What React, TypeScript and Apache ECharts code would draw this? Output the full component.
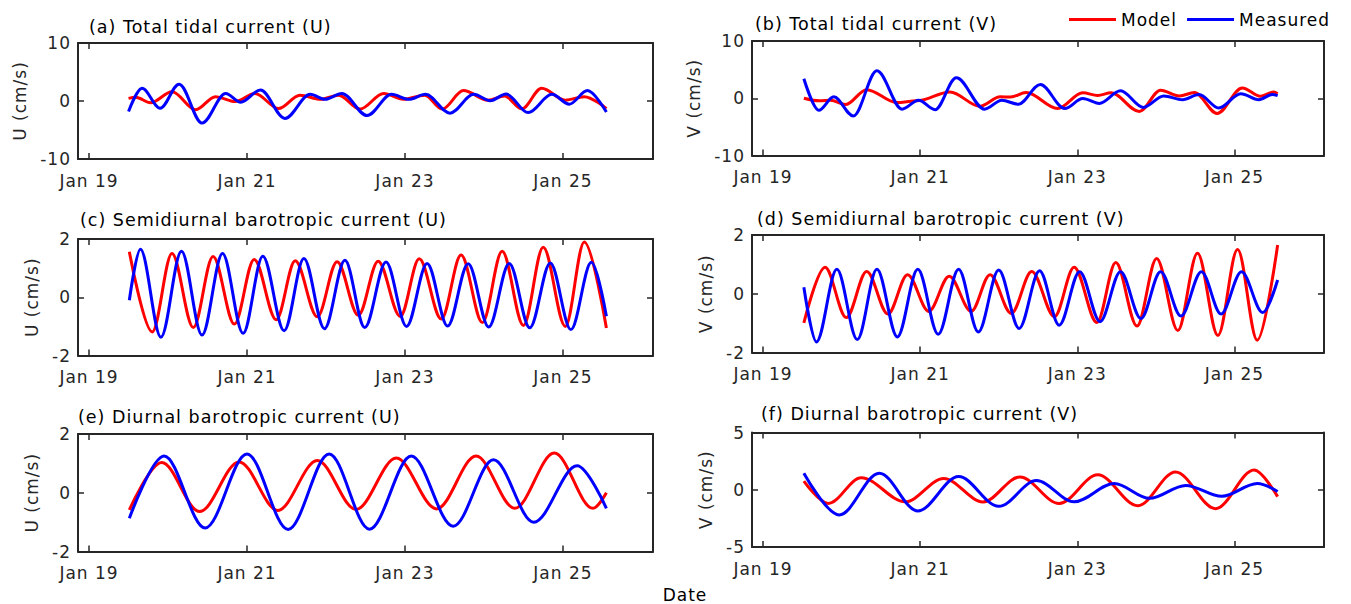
import { useEffect, useRef } from 'react';
import * as echarts from 'echarts';

type Pt = [number, number];

// Time is in days after Jan 19 00:00; values in cm/s.
// Each list holds the turning points of the curve (peaks, troughs, shoulders) plus its ends.

const totalU_model: Pt[] = [
  [0.5, 0.45], [0.59, 0.63], [0.78, -0.3], [1.05, 1.6], [1.35, -1.5], [1.6, 0.75], [1.85, -0.1],
  [2.1, 1.3], [2.4, -1.3], [2.67, 1.0], [2.93, 0.3], [3.16, 1.0], [3.43, -1.4], [3.73, 1.3],
  [3.98, 0.3], [4.25, 1.0], [4.47, -1.4], [4.74, 1.8], [5.05, 0.15], [5.26, 0.85], [5.48, -1.35],
  [5.73, 2.2], [6.03, 0.15], [6.27, 0.75], [6.55, -1.3],
];
const totalU_measured: Pt[] = [
  [0.5, -1.8], [0.67, 2.2], [0.9, -1.25], [1.14, 2.9], [1.43, -3.8], [1.73, 1.3], [1.92, -0.2],
  [2.17, 1.9], [2.48, -3.0], [2.8, 1.15], [2.99, 0.3], [3.2, 1.3], [3.52, -2.5], [3.83, 1.15],
  [4.05, 0.3], [4.26, 1.15], [4.57, -2.1], [4.87, 1.15], [5.08, 0.05], [5.28, 1.2], [5.56, -2.0],
  [5.86, 1.15], [6.08, -0.55], [6.31, 1.8], [6.55, -1.9],
];

const totalV_model: Pt[] = [
  [0.52, 0.0], [0.72, -0.45], [0.86, -0.35], [1.05, -1.1], [1.32, 1.5], [1.7, -0.75], [1.96, -0.45],
  [2.38, 1.1], [2.76, -1.4], [3.02, 0.25], [3.15, 0.2], [3.35, 1.0], [3.75, -1.8], [4.07, 0.95],
  [4.26, 0.5], [4.43, 0.95], [4.79, -2.3], [5.06, 1.4], [5.3, 0.4], [5.49, 1.0], [5.78, -2.65],
  [6.1, 1.8], [6.33, 0.35], [6.5, 1.1], [6.55, 0.8],
];
const totalV_measured: Pt[] = [
  [0.52, 3.4], [0.71, -2.1], [0.9, 0.25], [1.15, -3.1], [1.45, 4.8], [1.77, -1.9], [1.98, -0.35],
  [2.19, -2.0], [2.46, 3.6], [2.82, -1.9], [3.04, -0.35], [3.25, -1.05], [3.53, 2.4], [3.84, -1.8],
  [4.07, -0.05], [4.28, -0.9], [4.55, 1.3], [4.84, -1.6], [5.1, 0.4], [5.34, -0.25], [5.55, 0.65],
  [5.8, -1.7], [6.08, 0.8], [6.31, -0.25], [6.48, 0.65], [6.55, 0.45],
];

const semiU_model: Pt[] = [
  [0.51, 1.56], [0.8, -1.19], [1.05, 1.5], [1.32, -1.04], [1.57, 1.4], [1.84, -0.92], [2.09, 1.3],
  [2.37, -0.77], [2.61, 1.25], [2.89, -0.67], [3.14, 1.22], [3.41, -0.62], [3.66, 1.24], [3.94, -0.66],
  [4.18, 1.32], [4.46, -0.75], [4.71, 1.45], [4.98, -0.87], [5.23, 1.58], [5.5, -0.97], [5.75, 1.72],
  [6.03, -1.0], [6.27, 1.9], [6.55, -1.06],
];
const semiU_measured: Pt[] = [
  [0.51, -0.1], [0.65, 1.65], [0.91, -1.37], [1.17, 1.58], [1.43, -1.3], [1.69, 1.5], [1.95, -1.24],
  [2.2, 1.41], [2.47, -1.15], [2.72, 1.33], [2.98, -1.08], [3.24, 1.27], [3.49, -1.04], [3.76, 1.21],
  [4.02, -1.0], [4.28, 1.16], [4.54, -0.99], [4.8, 1.15], [5.06, -1.02], [5.32, 1.16], [5.58, -1.05],
  [5.84, 1.18], [6.1, -1.11], [6.36, 1.2], [6.55, -0.65],
];

const semiV_model: Pt[] = [
  [0.52, -0.99], [0.79, 0.9], [1.06, -0.81], [1.32, 0.76], [1.59, -0.69], [1.84, 0.65], [2.11, -0.6],
  [2.37, 0.6], [2.65, -0.6], [2.89, 0.65], [3.16, -0.67], [3.42, 0.76], [3.71, -0.78], [3.96, 0.9],
  [4.25, -0.98], [4.49, 1.06], [4.76, -1.1], [5.01, 1.2], [5.28, -1.25], [5.53, 1.38], [5.79, -1.42],
  [6.04, 1.51], [6.29, -1.58], [6.55, 1.66],
];
const semiV_measured: Pt[] = [
  [0.52, 0.22], [0.68, -1.64], [0.94, 0.83], [1.2, -1.56], [1.45, 0.83], [1.71, -1.47], [1.97, 0.83],
  [2.23, -1.38], [2.49, 0.83], [2.74, -1.3], [3.0, 0.81], [3.26, -1.18], [3.52, 0.78], [3.77, -1.07],
  [4.03, 0.75], [4.29, -0.95], [4.55, 0.75], [4.81, -0.84], [5.06, 0.75], [5.32, -0.76], [5.58, 0.75],
  [5.83, -0.69], [6.09, 0.75], [6.36, -0.64], [6.55, 0.47],
];

const diurU_model: Pt[] = [
  [0.51, -0.58], [0.92, 1.03], [1.4, -0.64], [1.9, 1.05], [2.39, -0.6], [2.89, 1.1], [3.38, -0.57],
  [3.89, 1.18], [4.4, -0.55], [4.9, 1.25], [5.39, -0.53], [5.89, 1.35], [6.38, -0.53], [6.55, 0.0],
];
const diurU_measured: Pt[] = [
  [0.51, -0.87], [0.95, 1.25], [1.47, -1.2], [2.0, 1.32], [2.52, -1.25], [3.04, 1.32], [3.55, -1.24],
  [4.08, 1.25], [4.61, -1.14], [5.12, 1.12], [5.63, -1.0], [6.18, 0.92], [6.55, -0.53],
];

const diurV_model: Pt[] = [
  [0.52, 0.75], [0.83, -1.2], [1.25, 1.05], [1.81, -1.05], [2.3, 0.98], [2.8, -1.06], [3.27, 1.12],
  [3.77, -1.2], [4.26, 1.3], [4.77, -1.4], [5.25, 1.55], [5.76, -1.65], [6.25, 1.72], [6.55, -0.6],
];
const diurV_measured: Pt[] = [
  [0.52, 1.45], [0.97, -2.2], [1.48, 1.45], [1.97, -1.85], [2.49, 1.15], [3.0, -1.45], [3.48, 0.8],
  [3.96, -1.05], [4.47, 0.54], [4.92, -0.75], [5.38, 0.38], [5.84, -0.57], [6.29, 0.54], [6.55, -0.15],
];

const tickDays = [0, 2, 4, 6];
const tickLabels = ['Jan 19', 'Jan 21', 'Jan 23', 'Jan 25'];
const seriesNames = ['Model', 'Measured'];
const seriesColors = ['#ff0000', '#0000ff'];

const FONT = '"DejaVu Sans", "Liberation Sans", sans-serif';
const AXIS = '#262626';

interface Panel {
  title: string;
  yName: string;
  yLim: number;
  model: Pt[];
  measured: Pt[];
  box: { left: number; top: number; width: number; height: number };
  titleAt: [number, number];
  nameGap: number;
}

const panels: Panel[] = [
  {
    title: '(a) Total tidal current (U)', yName: 'U (cm/s)', yLim: 10,
    model: totalU_model, measured: totalU_measured,
    box: { left: 78, top: 43, width: 575, height: 116 }, titleAt: [89, 26.5], nameGap: 50,
  },
  {
    title: '(b) Total tidal current (V)', yName: 'V (cm/s)', yLim: 10,
    model: totalV_model, measured: totalV_measured,
    box: { left: 752, top: 41, width: 572, height: 114.5 }, titleAt: [755, 23.5], nameGap: 50,
  },
  {
    title: '(c) Semidiurnal barotropic current (U)', yName: 'U (cm/s)', yLim: 2,
    model: semiU_model, measured: semiU_measured,
    box: { left: 78, top: 239, width: 575, height: 116.5 }, titleAt: [80, 220], nameGap: 38,
  },
  {
    title: '(d) Semidiurnal barotropic current (V)', yName: 'V (cm/s)', yLim: 2,
    model: semiV_model, measured: semiV_measured,
    box: { left: 752, top: 235, width: 572, height: 117.5 }, titleAt: [757, 218.5], nameGap: 38,
  },
  {
    title: '(e) Diurnal barotropic current (U)', yName: 'U (cm/s)', yLim: 2,
    model: diurU_model, measured: diurU_measured,
    box: { left: 78, top: 434, width: 575, height: 117.5 }, titleAt: [78, 416.5], nameGap: 38,
  },
  {
    title: '(f) Diurnal barotropic current (V)', yName: 'V (cm/s)', yLim: 5,
    model: diurV_model, measured: diurV_measured,
    box: { left: 752, top: 432.5, width: 572, height: 114.5 }, titleAt: [761, 413.5], nameGap: 38,
  },
];

const X_MIN = -0.14;
const X_MAX = 7.14;

function dayLabel(v: number): string {
  const i = tickDays.indexOf(Math.round(v));
  return i >= 0 ? tickLabels[i] : '';
}

function buildOption(): echarts.EChartsOption {
  const grid: any[] = [];
  const xAxis: any[] = [];
  const yAxis: any[] = [];
  const series: any[] = [];
  const graphic: any[] = [];

  const axisLine = { show: true, onZero: false, lineStyle: { color: AXIS, width: 2 } };
  const tickStyle = { color: AXIS, width: 1.5 };

  panels.forEach((p, i) => {
    grid.push({ ...p.box, containLabel: false, show: false });

    xAxis.push({
      type: 'value', gridIndex: i, position: 'bottom', min: X_MIN, max: X_MAX,
      axisLine,
      axisTick: { show: true, inside: true, length: 6, customValues: tickDays, lineStyle: tickStyle },
      axisLabel: {
        show: true, customValues: tickDays, formatter: dayLabel, margin: 13,
        color: AXIS, fontSize: 17, fontFamily: FONT,
      },
      splitLine: { show: false },
    });
    xAxis.push({
      type: 'value', gridIndex: i, position: 'top', min: X_MIN, max: X_MAX,
      axisLine,
      axisTick: { show: true, inside: true, length: 6, customValues: tickDays, lineStyle: tickStyle },
      axisLabel: { show: false },
      splitLine: { show: false },
    });

    yAxis.push({
      type: 'value', gridIndex: i, position: 'left', min: -p.yLim, max: p.yLim, interval: p.yLim,
      axisLine,
      axisTick: { show: true, inside: true, length: 6, lineStyle: tickStyle },
      axisLabel: {
        show: true, margin: 7, color: AXIS, fontSize: 17, fontFamily: FONT,
        formatter: (v: number) => String(v),
      },
      splitLine: { show: false },
      name: p.yName, nameLocation: 'middle', nameRotate: 90, nameGap: p.nameGap,
      nameTextStyle: { color: AXIS, fontSize: 17, fontFamily: FONT },
    });
    yAxis.push({
      type: 'value', gridIndex: i, position: 'right', min: -p.yLim, max: p.yLim, interval: p.yLim,
      axisLine,
      axisTick: { show: true, inside: true, length: 6, lineStyle: tickStyle },
      axisLabel: { show: false },
      splitLine: { show: false },
    });

    [p.model, p.measured].forEach((d, k) => {
      series.push({
        type: 'line', name: seriesNames[k], xAxisIndex: 2 * i, yAxisIndex: 2 * i,
        data: d, color: seriesColors[k],
        symbol: 'none', showSymbol: false,
        smooth: 0.34, smoothMonotone: 'x',
        lineStyle: { color: seriesColors[k], width: 3 },
        z: 2 + k,
      });
    });

    graphic.push({
      type: 'text', x: p.titleAt[0], y: p.titleAt[1],
      style: {
        text: p.title, fill: '#000', font: `17.5px ${FONT}`,
        align: 'left', verticalAlign: 'middle', textAlign: 'left', textVerticalAlign: 'middle',
      },
    });
  });

  graphic.push({
    type: 'text', x: 685, y: 595,
    style: {
      text: 'Date', fill: '#000', font: `17px ${FONT}`,
      align: 'center', verticalAlign: 'middle', textAlign: 'center', textVerticalAlign: 'middle',
    },
  });

  return {
    animation: false,
    backgroundColor: '#ffffff',
    grid, xAxis, yAxis, series, graphic,
    legend: {
      data: seriesNames, left: 1069, top: 11, padding: 0,
      icon: 'rect', itemWidth: 47, itemHeight: 3, itemGap: 15,
      textStyle: { color: '#000', fontSize: 17, fontFamily: FONT },
    },
  } as echarts.EChartsOption;
}

export default function App() {
  const ref = useRef<HTMLDivElement>(null);
  useEffect(() => {
    if (!ref.current) return;
    const chart = echarts.init(ref.current, undefined, { renderer: 'svg' });
    chart.setOption(buildOption());
    return () => chart.dispose();
  }, []);
  return (
    <div
      ref={ref}
      style={{ position: 'absolute', left: 0, top: 0, width: 1351, height: 604, letterSpacing: '1px' }}
    />
  );
}
